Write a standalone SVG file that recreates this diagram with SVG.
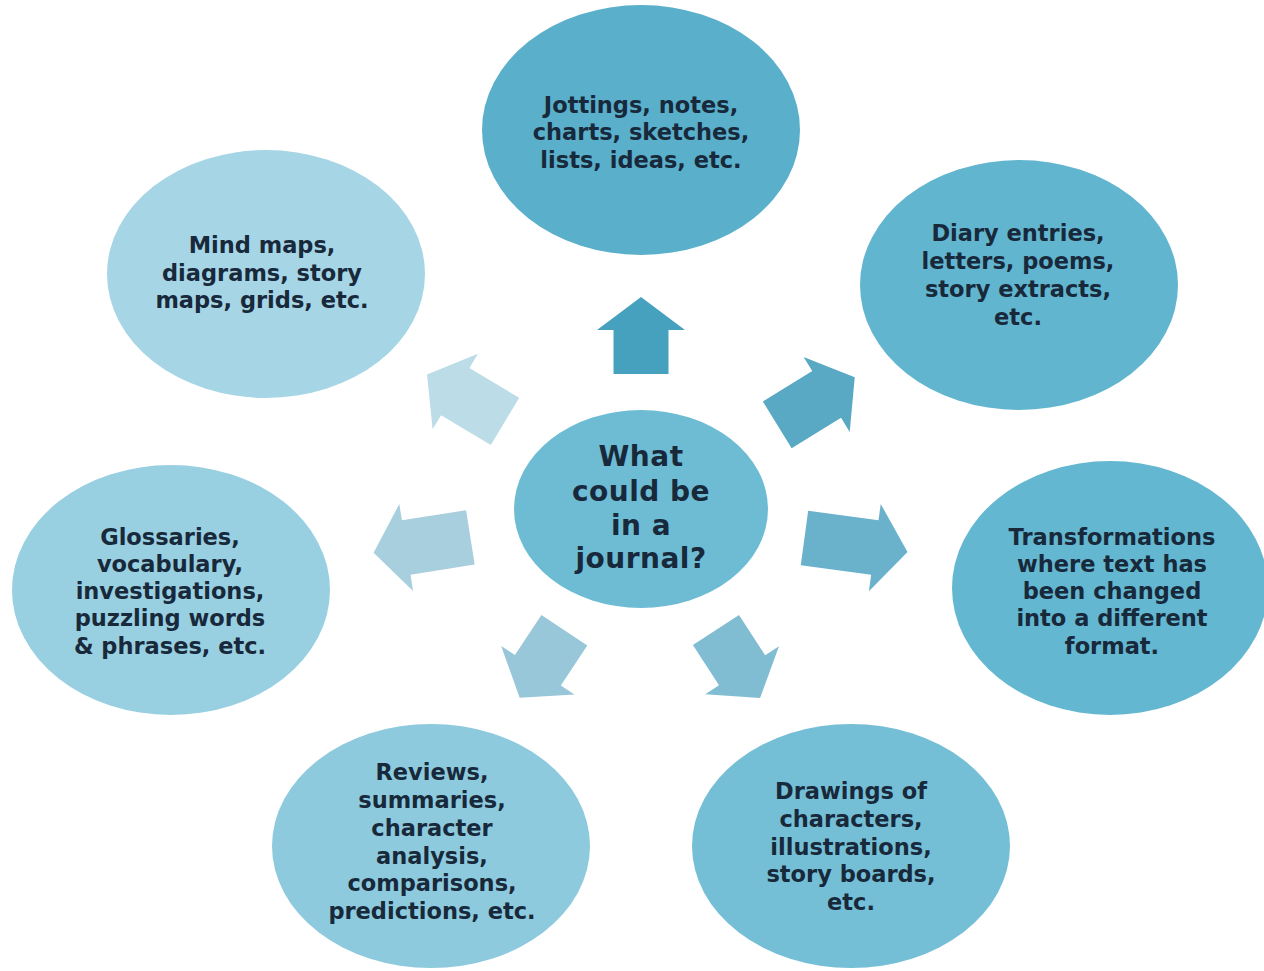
<svg xmlns="http://www.w3.org/2000/svg" width="1264" height="971" viewBox="0 0 1264 971">
<style>
.t{font-family:"DejaVu Sans","Liberation Sans",sans-serif;font-weight:700;font-size:22.5px;fill:#17293a;text-anchor:middle}
.c{font-size:28px;letter-spacing:0.5px}
</style>
<rect width="1264" height="971" fill="#ffffff"/>
<g id="connectors">
<polygon fill="#46A1BE" transform="translate(641,335.5) rotate(-90)" points="-38.5,-27.5 5.5,-27.5 5.5,-44 38.5,0 5.5,44 5.5,27.5 -38.5,27.5"/>
<polygon fill="#5AA9C4" transform="translate(816,401) rotate(-31.6)" points="-45.5,-27.5 12.5,-27.5 12.5,-44 45.5,0 12.5,44 12.5,27.5 -45.5,27.5"/>
<polygon fill="#6AB2CB" transform="translate(856,545) rotate(7.7)" points="-52,-27.5 19,-27.5 19,-44 52,0 19,44 19,27.5 -52,27.5"/>
<polygon fill="#80BDD3" transform="translate(738,664) rotate(57)" points="-40.5,-27.5 7.5,-27.5 7.5,-44 40.5,0 7.5,44 7.5,27.5 -40.5,27.5"/>
<polygon fill="#97C7D9" transform="translate(542,664) rotate(123.5)" points="-40.5,-27.5 7.5,-27.5 7.5,-44 40.5,0 7.5,44 7.5,27.5 -40.5,27.5"/>
<polygon fill="#A7CFDE" transform="translate(422,545) rotate(171)" points="-49,-27.5 16,-27.5 16,-44 49,0 16,44 16,27.5 -49,27.5"/>
<polygon fill="#BCDCE7" transform="translate(466,398) rotate(-149)" points="-45.5,-27.5 12.5,-27.5 12.5,-44 45.5,0 12.5,44 12.5,27.5 -45.5,27.5"/>
</g>
<g id="center">
<ellipse cx="641" cy="509" rx="127" ry="99" fill="#6DBCD4"/>
<text class="t c" x="641" y="466">What</text>
<text class="t c" x="641" y="501">could be</text>
<text class="t c" x="641" y="535">in a</text>
<text class="t c" x="641" y="568">journal?</text>
</g>
<g id="node-jottings">
<ellipse cx="641" cy="130" rx="159" ry="125" fill="#5AAFCB"/>
<text class="t" x="641" y="113">Jottings, notes,</text>
<text class="t" x="641" y="140">charts, sketches,</text>
<text class="t" x="641" y="168">lists, ideas, etc.</text>
</g>
<g id="node-diary">
<ellipse cx="1019" cy="285" rx="159" ry="125" fill="#62B5CF"/>
<text class="t" x="1018" y="241">Diary entries,</text>
<text class="t" x="1018" y="269">letters, poems,</text>
<text class="t" x="1018" y="297">story extracts,</text>
<text class="t" x="1018" y="325">etc.</text>
</g>
<g id="node-transformations">
<ellipse cx="1110" cy="588" rx="158" ry="127" fill="#64B7D0"/>
<text class="t" x="1112" y="545">Transformations</text>
<text class="t" x="1112" y="572">where text has</text>
<text class="t" x="1112" y="599">been changed</text>
<text class="t" x="1112" y="626">into a different</text>
<text class="t" x="1112" y="654">format.</text>
</g>
<g id="node-drawings">
<ellipse cx="851" cy="846" rx="159" ry="122" fill="#75BFD6"/>
<text class="t" x="851" y="799">Drawings of</text>
<text class="t" x="851" y="827">characters,</text>
<text class="t" x="851" y="855">illustrations,</text>
<text class="t" x="851" y="882">story boards,</text>
<text class="t" x="851" y="910">etc.</text>
</g>
<g id="node-reviews">
<ellipse cx="431" cy="846" rx="159" ry="122" fill="#8DCADD"/>
<text class="t" x="432" y="780">Reviews,</text>
<text class="t" x="432" y="808">summaries,</text>
<text class="t" x="432" y="836">character</text>
<text class="t" x="432" y="864">analysis,</text>
<text class="t" x="432" y="891">comparisons,</text>
<text class="t" x="432" y="919">predictions, etc.</text>
</g>
<g id="node-glossaries">
<ellipse cx="171" cy="590" rx="159" ry="125" fill="#98CFE1"/>
<text class="t" x="170" y="545">Glossaries,</text>
<text class="t" x="170" y="572">vocabulary,</text>
<text class="t" x="170" y="599">investigations,</text>
<text class="t" x="170" y="626">puzzling words</text>
<text class="t" x="170" y="654">&amp; phrases, etc.</text>
</g>
<g id="node-mindmaps">
<ellipse cx="266" cy="274" rx="159" ry="124" fill="#A6D5E6"/>
<text class="t" x="262" y="253">Mind maps,</text>
<text class="t" x="262" y="281">diagrams, story</text>
<text class="t" x="262" y="308">maps, grids, etc.</text>
</g>
</svg>
